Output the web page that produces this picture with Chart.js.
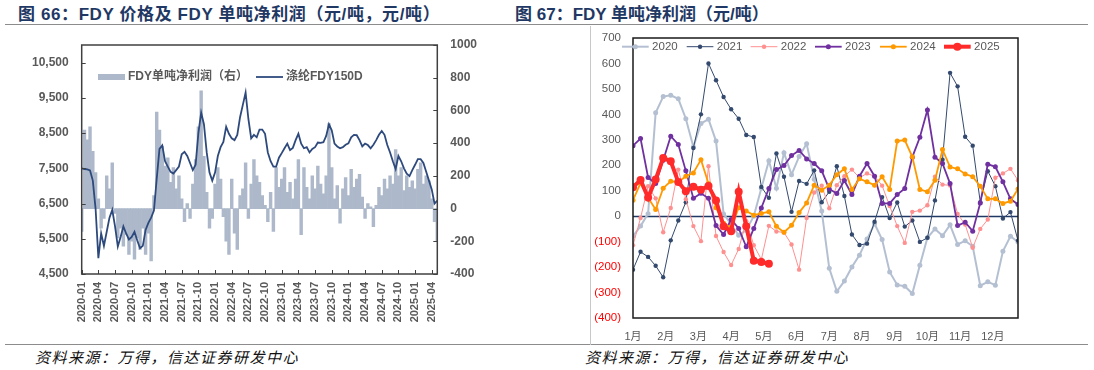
<!DOCTYPE html>
<html>
<head>
<meta charset="utf-8">
<script src="https://cdn.jsdelivr.net/npm/chart.js@4.4.0/dist/chart.umd.min.js"></script>
<style>
  body { margin: 0; width: 1094px; height: 370px; position: relative; background: #fff; overflow: hidden; }
  .title { position: absolute; top: 5px; font-family: "Liberation Sans", "Noto Sans CJK SC", sans-serif; font-size: 17px; font-weight: bold; color: #1f3864; white-space: nowrap; line-height: 19px; }
  .rule { position: absolute; left: 5px; width: 1083px; height: 0; border-top: 1.5px solid #8c8c8c; }
  .src { position: absolute; top: 348px; font-family: "Noto Sans CJK SC", sans-serif; font-size: 15px; font-style: italic; letter-spacing: 1.5px; color: #111; white-space: nowrap; line-height: 18px; }
  .vline { position: absolute; left: 590px; top: 26px; width: 0; height: 319px; border-left: 1px solid #c8c8c8; }
  #w1 { position: absolute; left: 0; top: 30px; }
  #w2 { position: absolute; left: 590px; top: 26px; }
</style>
</head>
<body>
<div class="title" style="left:18px; letter-spacing:0.6px">图 66：FDY 价格及 FDY 单吨净利润（元/吨，元/吨）</div>
<div class="title" style="left:515px">图 67：FDY 单吨净利润（元/吨）</div>
<div class="rule" style="top:24px"></div>
<div class="rule" style="top:344px"></div>
<div class="vline"></div>
<div class="src" style="left:35px">资料来源：万得，信达证券研发中心</div>
<div class="src" style="left:585px">资料来源：万得，信达证券研发中心</div>
<div id="w1"><canvas id="c1" width="545" height="315"></canvas></div>
<div id="w2"><canvas id="c2" width="504" height="319"></canvas></div>
<script>
// ---- 图66 数据：半月一个点，自 2020-01 起 ----
const quarterLabels = ['2020-01', '2020-04', '2020-07', '2020-10', '2021-01', '2021-04', '2021-07', '2021-10',
  '2022-01', '2022-04', '2022-07', '2022-10', '2023-01', '2023-04', '2023-07', '2023-10',
  '2024-01', '2024-04', '2024-07', '2024-10', '2025-01', '2025-04'];
const priceTicks = [4500, 5500, 6500, 7500, 8500, 9500, 10500];

// 涤纶FDY150D 价格（元/吨）
const fdyPrice = [
  7500, 7480, 7470, 7440, 7150, 6350, 4950, 5650, 5300, 5700,
  6100, 6320, 5850, 5280, 5550, 5850, 5650, 5480, 5550, 5700,
  5450, 5230, 5300, 5750, 5950, 6100, 6300, 7200, 8050, 8150,
  7700, 7550, 7400, 7350, 7450, 7550, 7900, 7970, 7850, 7650,
  7450, 7600, 8500, 9080, 8750, 7950, 7380, 7150, 7380, 7850,
  8100, 8250, 8680, 8480, 8350, 8300, 8450, 8950, 9300, 9650,
  8900, 8350, 8450, 8380, 8600, 8600, 8480, 7950, 7700, 7550,
  7550, 7800, 7930, 8070, 8200, 8020, 8080, 8300, 8480, 8200,
  8070, 8100, 7950, 8050, 8100, 8230, 8220, 8240, 8420, 8750,
  8580, 8200, 8120, 8070, 8100, 8170, 8210, 8380, 8450, 8440,
  8300, 8120, 8200, 8160, 8070, 8170, 8300, 8450, 8560, 8450,
  8160, 7950, 7700, 7480, 7850, 7700, 7500, 7350, 7280, 7450,
  7600, 7760, 7760, 7650, 7400, 7150, 6900, 6500, 6580
];

// FDY 单吨净利润（右轴，元/吨）
const fdyProfit = [
  -140, 480, 420, 500, 350, 220, 60, -120, -60, 200,
  120, 280, -30, -180, -120, -230, -160, -280, -200, -310,
  -180, -250, -120, -280, -150, -320, 80, 590, 480, 380,
  260, 310, 160, 250, 120, 200, 60, -80, 30, -60,
  150, 300, 500, 720, 320, 100, -120, -60, 150, 250,
  180, -50, -200, -280, 180, -150, -250, 80, 120, 280,
  -60, 150, 300, 200, 160, 80, 20, -80, 100, -140,
  250, 130, 180, 250, 100, 160, 60, 180, 300, -160,
  250, 130, 60, 200, 120, 260, 150, 90, 200, 520,
  250, 60, 140, -90, 120, 190, 80, 240, 130, 180,
  210, 70, -60, 30, 10, -110, 20, 130, 80, 180,
  120, 200, 150, 360, 200, 250, 110, 200, 130, 170,
  120, 240, 280, 150, 200, 170, 60, -80, -200
];

// ---- 图67 数据：按周 ----
const monthLabels = ['1月', '2月', '3月', '4月', '5月', '6月', '7月', '8月', '9月', '10月', '11月', '12月'];
const years = ['2020', '2021', '2022', '2023', '2024', '2025'];

const profit2020 = [-78, -39, 10, 406, 470, 475, 461, 383, 272, 364, 381, 295, 9, -32, -75, -55, 0, 110, 218, 110,
  249, 163, 234, 285, 145, 20, -205, -295, -255, -200, -153, -90, -30, -92, -219, -270, -275, -304, -193, -85,
  -50, -77, -34, -111, -97, -118, -273, -258, -271, -138, -79, -101];
const profit2021 = [-210, -140, -160, -195, -240, -95, -17, 55, 268, 400, 600, 534, 468, 420, 383, 319, 311, 115, 72, 246,
  155, 17, 138, 127, 180, 55, 96, 196, 79, -72, -113, -108, -22, 75, -7, 54, -41, -17, -101, -85,
  62, 222, 563, 510, 312, 277, 55, 177, 118, -9, 16, -96];
const profit2022 = [-114, -7, 118, 70, -63, 32, 183, 67, -39, -98, 196, -78, -141, -192, -129, -20, -114, -170, -38, -60,
  -64, -111, -210, -7, 93, 120, 31, 122, 157, 183, 151, 168, 157, 120, 40, -39, -105, 17, 22, 43,
  155, 124, 121, 9, -33, -124, -50, -13, 151, 168, 186, 141];
const profit2023 = [277, 305, 152, 128, 220, 314, 282, 178, 70, 90, 70, -37, -72, -13, -48, -120, -48, 32, 109, 183,
  199, 238, 258, 225, 207, 178, 107, 89, 140, 85, 157, 207, 157, 50, 50, 85, 109, 232, 310, 417,
  232, 207, 128, -37, -24, -59, 52, 204, 194, 135, 68, 46];
const profit2024 = [63, 130, 72, 26, 110, 137, 134, 157, 170, 222, 128, 33, -28, -45, 33, 20, 4, 11, 17, -40,
  -63, -36, 14, 52, 122, 102, 122, 163, 186, 105, 147, 135, 122, 155, 105, 295, 299, 233, 105, 96,
  141, 262, 193, 186, 166, 155, 118, 68, 68, 50, 59, 107];
const profit2025 = [114, 142, 73, 144, 229, 216, 134, 98, 116, 104, 119, 62, -40, -59, 96, -40, -175, -180, -187];

Chart.defaults.font.family = '"Liberation Sans", "Noto Sans CJK SC", sans-serif';
Chart.defaults.color = '#595959';

// 固定轴的尺寸，去掉刻度文字带来的额外留白
function fixY(w) {
  return s => { s.width = w; s.paddingTop = 0; s.paddingBottom = 0; };
}
function fixX(h) {
  return s => { s.height = h; s.paddingLeft = 0; s.paddingRight = 0; };
}

// 边框 + 内向刻度 + 零线
const frameBox = {
  id: 'frameBox',
  beforeDatasetsDraw(chart, args, o) {
    if (!o.zeroLine) return;
    const { ctx, chartArea: a } = chart;
    const y = Math.round(chart.scales.y.getPixelForValue(0)) + 0.5;
    ctx.save();
    ctx.strokeStyle = o.zeroLine;
    ctx.lineWidth = 1.5;
    ctx.beginPath();
    ctx.moveTo(a.left, y);
    ctx.lineTo(a.right, y);
    ctx.stroke();
    ctx.restore();
  },
  afterDatasetsDraw(chart, args, o) {
    const { ctx, chartArea: a } = chart;
    ctx.save();
    ctx.strokeStyle = o.color;
    ctx.lineWidth = o.width;
    ctx.strokeRect(a.left, a.top, a.right - a.left, a.bottom - a.top);
    if (o.ticks) {
      ctx.lineWidth = 1;
      ctx.beginPath();
      chart.scales.y.ticks.forEach(t => {
        const y = Math.round(chart.scales.y.getPixelForValue(t.value)) + 0.5;
        ctx.moveTo(a.left, y); ctx.lineTo(a.left + 4, y);
      });
      chart.scales.y1.ticks.forEach(t => {
        const y = Math.round(chart.scales.y1.getPixelForValue(t.value)) + 0.5;
        ctx.moveTo(a.right - 4, y); ctx.lineTo(a.right, y);
      });
      chart.scales.x.ticks.forEach(t => {
        const x = Math.round(chart.scales.x.getPixelForValue(t.value)) + 0.5;
        ctx.moveTo(x, a.bottom); ctx.lineTo(x, a.bottom - 4);
      });
      ctx.stroke();
    }
    ctx.restore();
  }
};

// 图内图例
const inLegend = {
  id: 'inLegend',
  afterDraw(chart, args, o) {
    const ctx = chart.ctx;
    ctx.save();
    ctx.font = o.font;
    ctx.textBaseline = 'middle';
    o.items.forEach(it => {
      const ds = chart.data.datasets[it.index];
      const y = o.y;
      if (it.box) {
        ctx.fillStyle = ds.backgroundColor;
        ctx.fillRect(it.x, y - 3, o.len, 6);
      } else {
        ctx.strokeStyle = ds.borderColor;
        ctx.lineWidth = ds.borderWidth;
        ctx.beginPath();
        ctx.moveTo(it.x, y); ctx.lineTo(it.x + o.len, y);
        ctx.stroke();
        if (o.dots) {
          ctx.fillStyle = ds.borderColor;
          ctx.beginPath();
          ctx.arc(it.x + o.len / 2, y, ds.pointRadius, 0, Math.PI * 2);
          ctx.fill();
        }
      }
      ctx.fillStyle = o.color;
      ctx.fillText(ds.label, it.x + o.len + o.gap, y);
    });
    ctx.restore();
  }
};

// ---- 图66 ----
const halfMonths = fdyPrice.map((_, i) => i / 2);
new Chart(document.getElementById('c1'), {
  type: 'bar',
  data: {
    datasets: [
      {
        type: 'line', label: '涤纶FDY150D', yAxisID: 'y', order: 0,
        data: fdyPrice.map((v, i) => ({ x: halfMonths[i], y: v })),
        borderColor: '#2e4a7d', backgroundColor: '#2e4a7d', borderWidth: 1.8,
        pointRadius: 0, tension: 0
      },
      {
        type: 'bar', label: 'FDY单吨净利润（右）', yAxisID: 'y1', order: 1,
        data: fdyProfit.map((v, i) => ({ x: halfMonths[i], y: v })),
        backgroundColor: '#adb9ca', borderWidth: 0,
        barPercentage: 1, categoryPercentage: 1
      }
    ]
  },
  options: {
    responsive: false, animation: false,
    layout: { padding: { top: 15, left: 0, right: 0, bottom: 0 } },
    plugins: {
      legend: { display: false }, tooltip: { enabled: false },
      frameBox: { color: '#404040', width: 1.5, ticks: true },
      inLegend: {
        y: 47, len: 27, gap: 3, font: 'bold 12px "Liberation Sans", "Noto Sans CJK SC"', color: '#595959',
        items: [{ index: 1, x: 98, box: true }, { index: 0, x: 256 }]
      }
    },
    scales: {
      x: {
        type: 'linear', min: 0, max: 64, offset: false,
        grid: { display: false, drawTicks: false }, border: { display: false },
        afterBuildTicks: s => { s.ticks = quarterLabels.map((_, i) => ({ value: i * 3 })); },
        afterFit: fixX(71),
        ticks: {
          autoSkip: false, minRotation: 90, maxRotation: 90, padding: 8,
          font: { size: 11, weight: 'bold' }, color: '#595959',
          callback: (v, i) => quarterLabels[i]
        }
      },
      y: {
        position: 'left', min: 4500, max: 11000,
        grid: { display: false, drawTicks: false }, border: { display: false },
        afterBuildTicks: s => { s.ticks = priceTicks.map(v => ({ value: v })); },
        afterFit: fixY(81.7),
        ticks: { padding: 13, font: { size: 12, weight: 'bold' }, color: '#595959',
          callback: v => v.toLocaleString('en-US') }
      },
      y1: {
        position: 'right', min: -400, max: 1000,
        grid: { display: false, drawTicks: false }, border: { display: false },
        afterFit: fixY(107.7),
        ticks: { stepSize: 200, padding: 13, font: { size: 12, weight: 'bold' }, color: '#595959',
          callback: v => String(v) }
      }
    }
  },
  plugins: [frameBox, inLegend]
});

// ---- 图67 ----
const weekSeries = [profit2020, profit2021, profit2022, profit2023, profit2024, profit2025];
const yearColors = ['#b4c0d2', '#34496e', '#ff9090', '#7030a0', '#ff9900', '#ff2a2a'];
const yearWidths = [2, 1, 1, 1.8, 1.8, 4];
const yearDots = [2.5, 2.2, 2.2, 2.5, 2.5, 4];

new Chart(document.getElementById('c2'), {
  type: 'line',
  data: {
    datasets: weekSeries.map((arr, k) => ({
      label: years[k],
      data: arr.map((v, i) => ({ x: i, y: v })),
      borderColor: yearColors[k], backgroundColor: yearColors[k],
      pointBackgroundColor: yearColors[k], pointBorderWidth: 0,
      borderWidth: yearWidths[k], pointRadius: yearDots[k],
      tension: 0, order: 5 - k
    }))
  },
  options: {
    responsive: false, animation: false,
    layout: { padding: { top: 12, left: 0, right: 76, bottom: 0 } },
    plugins: {
      legend: { display: false }, tooltip: { enabled: false },
      frameBox: { color: '#1a1a1a', width: 1.5, zeroLine: '#1f3864' },
      inLegend: {
        y: 20.7, len: 26.7, gap: 3.4, dots: true, font: '11.5px "Liberation Sans"', color: '#595959',
        items: [{ index: 0, x: 32 }, { index: 1, x: 96.7 }, { index: 2, x: 160.7 },
                { index: 3, x: 225 }, { index: 4, x: 290 }, { index: 5, x: 354 }]
      }
    },
    scales: {
      x: {
        type: 'linear', min: 0, max: 51,
        grid: { display: false, drawTicks: false }, border: { display: false },
        afterBuildTicks: s => { s.ticks = monthLabels.map((_, m) => ({ value: m * 52 / 12 })); },
        afterFit: fixX(27),
        ticks: { autoSkip: false, maxRotation: 0, padding: 12, font: { size: 11 }, color: '#595959',
          callback: (v, i) => monthLabels[i] }
      },
      y: {
        min: -400, max: 700,
        grid: { display: false, drawTicks: false }, border: { display: false },
        afterFit: fixY(43),
        ticks: {
          stepSize: 100, padding: 12, font: { size: 11.5 },
          color: c => (c.tick && c.tick.value < 0 ? '#ff0000' : '#595959'),
          callback: v => (v < 0 ? '(' + (-v) + ')' : String(v))
        }
      }
    }
  },
  plugins: [frameBox, inLegend]
});
</script>
</body>
</html>
